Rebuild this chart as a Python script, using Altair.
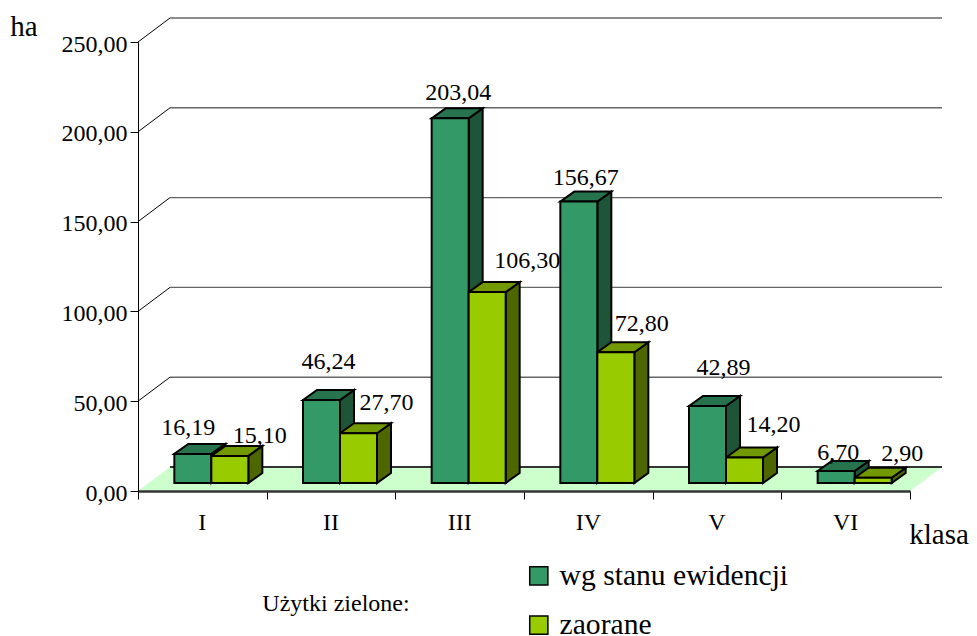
import altair as alt
import pandas as pd

# --- values
classes = ["I", "II", "III", "IV", "V", "VI"]
evidence = [16.19, 46.24, 203.04, 156.67, 42.89, 6.70]
ploughed = [15.10, 27.70, 106.30, 72.80, 14.20, 2.90]
series_names = ["wg stanu ewidencji", "zaorane"]
y_ticks = [0, 50, 100, 150, 200, 250]
evidence_text = ["16,19", "46,24", "203,04", "156,67", "42,89", "6,70"]
ploughed_text = ["15,10", "27,70", "106,30", "72,80", "14,20", "2,90"]

# --- layout, in pixels of the plot
W, H = 772, 449
UX = W / 6
UY = H / 250
WALL_DX, WALL_DY = 32, 24
BAR_W, BAR_DX, BAR_DY = 37, 14, 10
BAR_LIFT = 8
BAR_SHIFT = 9
FONT = "Liberation Serif"
FS = 24
FS_BIG = 29
FS_LEGEND = 29.6
evidence_nudge = [(-4.5, -26), (7, -38), (8, -25), (7, -24), (16, -38), (2, -18)]
ploughed_nudge = [(30, -20), (28, -30), (40, -31), (26, -28), (29, -32), (29, -24)]

px = lambda v: v / UX
py = lambda v: v / UY
X = alt.Scale(domain=[0, 6], nice=False, zero=False)
Y = alt.Scale(domain=[0, 250], nice=False, zero=False)
XE = alt.X("x:Q", scale=X, title=None)
YE = alt.Y("y:Q", scale=Y, title=None)


def poly_area(df, fill, stroke=None, sw=1.5):
    kw = {"fill": fill, "interpolate": "linear", "orient": "vertical"}
    if stroke:
        kw.update(stroke=stroke, strokeWidth=sw, strokeJoin="miter")
    return alt.Chart(df).mark_area(**kw).encode(x=XE, y=YE, y2="y2:Q", detail="g:N")


# axes (drawn from real scales)
axes = alt.Chart(pd.DataFrame({"x": [0], "y": [0]})).mark_point(opacity=0).encode(
    x=alt.X("x:Q", scale=X, title=None, axis=alt.Axis(
        values=list(range(7)), labels=False, tickSize=8, tickColor="#000000", tickWidth=1,
        domainColor="#333333", domainWidth=2.5, grid=False, title=None, zindex=1)),
    y=alt.Y("y:Q", scale=Y, title=None, axis=alt.Axis(
        values=y_ticks, labelExpr="replace(format(datum.value,'.2f'),'.',',')",
        tickSize=8, tickColor="#000000", tickWidth=1, domainColor="#000000", domainWidth=1,
        labelFont=FONT, labelFontSize=FS, labelColor="#000000", labelPadding=3, labelOffset=2,
        grid=False, title=None, zindex=1)),
)

# wall gridlines
back, diag = [], []
for t in y_ticks[1:]:
    back += [dict(x=px(WALL_DX), y=t + py(WALL_DY), g=t), dict(x=6 + px(WALL_DX), y=t + py(WALL_DY), g=t)]
    diag += [dict(x=0, y=t, g=t), dict(x=px(WALL_DX), y=t + py(WALL_DY), g=t)]
back_lines = alt.Chart(pd.DataFrame(back)).mark_line(color="#666666", strokeWidth=1.4).encode(
    x=XE, y=YE, detail="g:N")
diag_lines = alt.Chart(pd.DataFrame(diag)).mark_line(color="#000000", strokeWidth=1).encode(
    x=XE, y=YE, detail="g:N")

# floor
fy = py(WALL_DY)
fx = px(WALL_DX)
floor = poly_area(pd.DataFrame([
    dict(x=0, y=0, y2=0, g=0),
    dict(x=fx, y=fy, y2=0, g=0),
    dict(x=6, y=fy, y2=0, g=0),
    dict(x=6 + fx, y=fy, y2=fy, g=0),
]), "#CCFFCC")
floor_back = alt.Chart(pd.DataFrame([dict(x=fx, x2=6 + fx, y=fy)])).mark_rule(
    color="#333333", strokeWidth=2).encode(x=XE, x2="x2:Q", y=YE)

# bars
lift = py(BAR_LIFT)
bw, bdx, bdy = px(BAR_W), px(BAR_DX), py(BAR_DY)
front = []
labels = []
palette = [("#339966", "#26734D", "#1E5539"), ("#99CC00", "#739900", "#4D6600")]
layers_depth = []
for s, (vals, texts, nudges) in enumerate([(evidence, evidence_text, evidence_nudge),
                                           (ploughed, ploughed_text, ploughed_nudge)]):
    side, top = [], []
    for i, v in enumerate(vals):
        xl = i + 0.5 + px(BAR_SHIFT) + (s - 1) * bw
        xr = xl + bw
        yb = lift
        yt = lift + v
        front.append(dict(x=xl, x2=xr, y=yb, y2=yt, series=series_names[s]))
        side += [dict(x=xr, y=yt, y2=yb, g=i), dict(x=xr + bdx, y=yt + bdy, y2=yb + bdy, g=i)]
        top += [dict(x=xl, y=yt, y2=yt, g=i),
                dict(x=xl + bdx, y=yt + bdy, y2=yt, g=i),
                dict(x=xr, y=yt + bdy, y2=yt, g=i),
                dict(x=xr + bdx, y=yt + bdy, y2=yt + bdy, g=i)]
        labels.append(dict(x=(xl + xr) / 2 + px(nudges[i][0]), y=yt - py(nudges[i][1]), t=texts[i]))
    layers_depth += [poly_area(pd.DataFrame(side), palette[s][2], "#000000", 2),
                     poly_area(pd.DataFrame(top), palette[s][1], "#000000", 2)]

fronts = alt.Chart(pd.DataFrame(front)).mark_rect(stroke="#000000", strokeWidth=2).encode(
    x=XE,
    x2="x2:Q",
    y=YE,
    y2="y2:Q",
    color=alt.Color("series:N", scale=alt.Scale(domain=series_names, range=["#339966", "#99CC00"]),
                    legend=alt.Legend(
                        orient="none", legendX=386, legendY=519, title=None,
                        symbolType="square", symbolSize=330, symbolStrokeWidth=1.5,
                        symbolStrokeColor="#000000", symbolOpacity=1,
                        labelFont=FONT, labelFontSize=FS_LEGEND, labelColor="#000000",
                        labelLimit=400, rowPadding=18.4, labelOffset=6)),
)


def text_layer(rows, size=FS, **kw):
    return alt.Chart(pd.DataFrame(rows)).mark_text(
        font=FONT, fontSize=size, color="#000000", baseline="middle", **kw).encode(
        x=XE, y=YE, text="t:N")


value_labels = text_layer(labels)
cat_labels = text_layer([dict(x=i + 0.5, y=-py(32), t=c) for i, c in enumerate(classes)])
side_texts = text_layer([dict(x=px(198), y=-py(113), t="Użytki zielone:")])
big_texts = text_layer([
    dict(x=px(-114), y=250 + py(15), t="ha"),
    dict(x=px(801), y=-py(44), t="klasa"),
], size=FS_BIG)

chart = alt.layer(
    axes, back_lines, diag_lines, floor, floor_back, *layers_depth, fronts,
    value_labels, cat_labels, side_texts, big_texts,
).properties(
    width=W, height=H, autosize="none",
    padding={"left": 130, "top": 34, "right": 59, "bottom": 150},
    background="#FFFFFF",
).configure_view(stroke=None)

chart.save("out.html", embed_options={"renderer": "svg", "actions": False})
